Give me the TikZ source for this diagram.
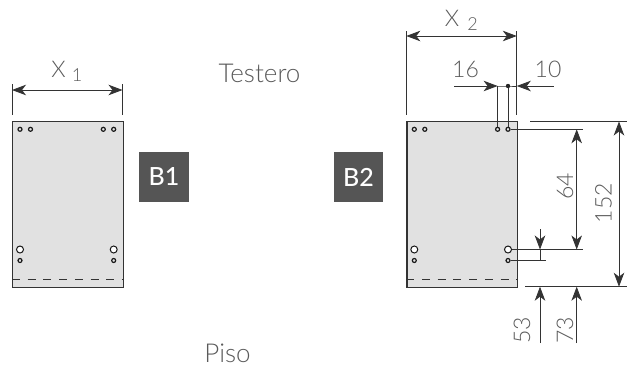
\documentclass[tikz,border=0pt]{standalone}
\usepackage{fontspec}
\setmainfont{Lato Light}
\newfontfamily\boldfont{Lato Medium}
\usetikzlibrary{arrows.meta}
\definecolor{panelgray}{HTML}{E1E1E1}
\definecolor{labelgray}{HTML}{5A5A5A}
\definecolor{taggray}{HTML}{555555}
\tikzset{
  panel/.style={draw=black!80,line width=1.2pt,fill=panelgray,minimum width=110.5pt,minimum height=165.5pt,inner sep=0pt,anchor=north west},
  tag/.style={fill=taggray,text=white,font=\boldfont\fontsize{25}{25}\selectfont,minimum size=49.5pt,inner sep=0pt},
  lbl/.style={text=labelgray,font=\fontsize{23}{23}\selectfont,inner sep=0pt},
  word/.style={lbl,font=\fontsize{26}{26}\selectfont},
  sub/.style={lbl,font=\fontsize{18}{18}\selectfont},
  hole/.style={circle,draw=black!90,line width=1.2pt,fill=panelgray,minimum size=4pt,inner sep=0pt},
  bighole/.style={hole,line width=1pt,fill=white,minimum size=7pt},
  dim/.style={line width=.8pt,draw=black!80},
  fold/.style={dim,dash pattern=on 8pt off 7.7pt,line width=1.1pt},
  arr/.style={dim,-{Stealth[length=14pt,width=10.5pt,inset=4pt]}},
  barr/.style={dim,{Stealth[length=14pt,width=10.5pt,inset=4pt]}-{Stealth[length=14pt,width=10.5pt,inset=4pt]}}
}
\begin{document}
\begin{tikzpicture}[x=1pt,y=-1pt]
  \useasboundingbox (0,0) rectangle (627,370);
  % panels
  \node[panel] (panelA) at (12,121) {};
  \node[panel] (panelB) at (406.3,121) {};
  \draw[fold] (panelA.west |- 0,279.7) -- (panelA.east |- 0,279.7);
  \draw[fold] (panelB.west |- 0,279.7) -- (panelB.east |- 0,279.7);
  % holes
  \foreach \p/\x in {A/12,B/406.3}{
    \foreach \n/\d in {a/8,b/18.5,c/91.3,d/101.7}
      \node[hole] (top\p\n) at (\x+\d,129.3) {};
    \node[bighole] (big\p a) at (\x+8,249.5) {};
    \node[bighole] (big\p b) at (\x+101.7,249.5) {};
    \node[hole] (low\p a) at (\x+8,260.5) {};
    \node[hole] (low\p b) at (\x+101.7,260.5) {};
  }
  % tags and labels
  \node[tag] (tagA) at (164,177) {B1};
  \node[tag] (tagB) at (358.5,177) {B2};
  \node[word] (testero) at (259.5,73.5) {Testero};
  \node[word] (piso) at (227.5,353.5) {Piso};
  \node[lbl] (xa) at (58.5,69.5) {X};
  \node[sub] (xaa) at (77,75.5) {1};
  \node[lbl] (xb) at (452,18.5) {X};
  \node[sub] (xbb) at (472.5,24.5) {2};
  \node[lbl] (sixteen) at (465.5,69.5) {16};
  \node[lbl] (ten) at (548,69.5) {10};
  \node[lbl,rotate=90] (sixtyfour) at (565,186.5) {64};
  \node[lbl,rotate=90] (onefivetwo) at (603.5,203) {152};
  \node[lbl,rotate=90] (fiftythree) at (522,330) {53};
  \node[lbl,rotate=90] (seventythree) at (565,330) {73};
  % X dimensions
  \coordinate (xaL) at (12,90);
  \coordinate (xaR) at (122.5,90);
  \coordinate (xbL) at (406.3,36);
  \coordinate (xbR) at (516.8,36);
  \draw[dim] (12,84) -- (12,114.5);
  \draw[dim] (122.5,84) -- (122.5,114.5);
  \draw[dim] (406.3,31) -- (406.3,114.5);
  \draw[dim] (516.8,31) -- (516.8,114.5);
  \draw[barr] (xaL) -- (xaR);
  \draw[barr] (xbL) -- (xbR);
  % 16 and 10
  \coordinate (sixL) at (454,86);
  \coordinate (tenR) at (553.5,86);
  \coordinate (sixT) at (497.6,86);
  \coordinate (tenT) at (508,86);
  \draw[arr] (sixL) -- (sixT);
  \draw[arr] (tenR) -- (516.8,86);
  \draw[dim] (sixT) -- (tenT) -- (516.8,86);
  \draw[dim] (sixT) -- (topBc);
  \draw[dim] (tenT) -- (topBd);
  \fill[black!85] (tenT) circle (2.2pt);
  % extension lines
  \coordinate (lineA) at (582.7,129.3);
  \coordinate (lineB) at (582.7,249.5);
  \coordinate (lineC) at (546,260.5);
  \draw[dim] (topBd) -- (lineA);
  \draw[dim] (bigBb) -- (lineB);
  \draw[dim] (lowBb) -- (lineC);
  \coordinate (topL) at (530,121.5);
  \coordinate (topR) at (627,121.5);
  \coordinate (botL) at (525,286.7);
  \coordinate (botR) at (627,286.7);
  \draw[dim] (topL) -- (topR);
  \draw[dim] (botL) -- (botR);
  % vertical dimensions
  \draw[barr] (576.7,129.3) -- (576.7,249.5);
  \draw[barr] (619,121.5) -- (619,286.7);
  \draw[arr] (540,229) -- (540,249.5);
  \draw[dim] (540,249.5) -- (540,260.5);
  \draw[arr] (540,343) -- (540,286.7);
  \draw[arr] (576.7,343) -- (576.7,286.7);
\end{tikzpicture}
\end{document}
